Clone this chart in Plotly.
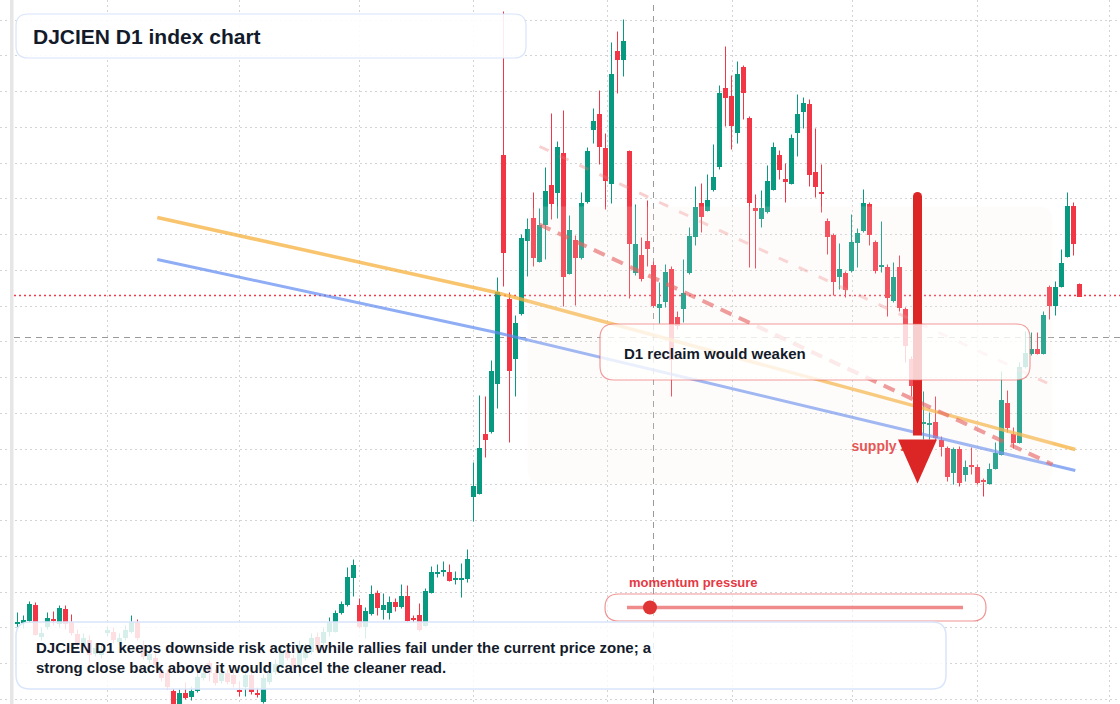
import plotly.graph_objects as go

W, H = 1120, 704

# ---------------- data (index level; 1 unit ~ 1 px vertically) ----------------
bar_index = list(range(178))
open_ = [376,377,379,395,363,373,380,376,391,378,366,355,360,346,345,367,368,358,362,368,
         378,355,340,342,330,327,309,294,307,303,309,322,337,327,319,327,325,310,313,325,
         307,298,318,328,333,348,342,335,342,348,363,357,368,368,387,395,422,395,373,386,
         407,390,387,398,393,404,381,385,374,407,426,428,428,420,420,421,503,506,566,568,
         616,845,701,641,686,759,782,738,775,815,807,847,726,760,742,798,870,886,852,816,
         949,940,849,727,745,759,735,692,698,731,683,691,727,763,797,789,810,833,912,904,
         867,933,882,792,781,788,810,845,821,816,867,888,896,828,808,779,765,723,727,729,
         757,769,796,758,733,733,699,733,691,641,614,576,575,578,560,552,527,551,525,534,
         533,520,516,531,545,597,566,557,633,646,651,646,713,694,713,743,794,716]
high_ = [387,384,398,397,372,387,388,394,394,385,370,366,364,356,354,373,372,366,374,384,
         380,359,350,346,334,330,311,310,317,313,328,331,339,330,331,330,328,318,330,328,
         312,325,331,340,352,352,345,359,356,366,367,372,382,389,398,432,440,401,392,414,
         409,406,403,401,415,414,384,396,411,433,435,438,435,428,436,450,537,604,603,639,
         722,988,707,684,765,781,807,791,832,886,858,889,784,764,807,852,891,909,866,957,
         968,980,849,795,762,799,738,717,735,733,688,740,772,813,816,825,855,914,953,924,
         938,934,883,805,809,834,857,849,836,865,905,902,900,871,835,781,766,756,728,785,
         771,810,797,759,778,735,737,744,692,643,620,608,587,603,563,553,552,553,539,552,
         535,521,536,557,628,609,572,637,668,667,667,688,714,718,750,807,797,716]
low_ = [372,371,377,364,359,370,374,372,370,364,352,352,337,343,341,363,356,354,359,366,
        359,340,336,332,318,310,290,292,300,299,307,319,318,314,316,315,312,303,303,305,
        302,296,315,325,331,339,329,323,339,345,347,354,363,367,385,393,403,371,361,384,
        384,380,380,388,391,378,377,368,373,406,422,423,418,415,402,417,478,505,542,566,
        591,713,557,603,684,723,733,737,740,780,781,693,725,694,740,796,856,835,790,796,
        906,923,701,724,718,733,692,676,692,603,670,677,725,754,767,788,808,830,873,850,
        856,880,732,731,772,786,809,820,797,815,843,871,813,802,787,745,704,710,702,727,
        732,767,754,726,727,683,697,688,637,603,575,560,560,559,543,518,515,513,518,525,
        515,503,515,530,544,567,551,556,631,644,645,645,680,684,712,742,744,703]
close_ = [377,380,396,365,367,382,379,392,376,367,355,362,345,352,350,370,360,362,370,378,
          362,343,346,335,322,313,294,307,302,309,323,327,327,317,327,318,316,308,325,308,
          305,322,327,336,348,342,333,355,352,362,350,368,378,387,396,423,435,373,389,406,
          392,395,398,393,404,379,380,370,409,428,427,429,419,421,422,441,514,552,560,629,
          708,747,629,677,762,771,742,775,809,796,853,723,770,742,797,849,879,853,819,926,
          940,959,756,756,721,751,694,696,728,640,674,707,764,793,783,800,823,907,902,874,
          926,907,797,789,792,819,853,830,818,862,886,897,825,813,806,763,718,731,710,758,
          767,797,765,729,734,702,723,692,654,614,580,578,577,562,553,523,551,517,533,533,
          517,518,531,547,600,572,557,633,647,651,646,685,694,713,737,794,756,703]

# reference levels and drawn studies (index units / price units)
reclaim_level = 704
pivot_level = 662
focus_bar = 106
trend_orange_x = [23.3, 79.8, 176.3]
trend_orange_y = [782, 707, 550]
trend_blue_x = [23.3, 79.8, 176.3]
trend_blue_y = [740, 667, 529]
channel_low_x = [87, 172.5]
channel_low_y = [775, 535]
channel_high_x = [87, 172.5]
channel_high_y = [853, 614]
zone_x = [85, 172.5]
zone_y = [516, 793]
arrow_bar = 150
arrow_from = 803
arrow_to = 516
grid_x = [15, 37, 57, 76, 98.3, 119.1, 139.1, 160, 182]

GREEN = "#089981"
RED = "#f23645"
FONT = "Liberation Sans, Arial, sans-serif"
DARK = "#131b2b"

X0 = -17.5 / 6          # axis start so that bar i sits at pixel 17.5 + 6 i
Y0 = 295.5              # axis bottom (price)

fig = go.Figure()

# wicks
for up, col in ((True, GREEN), (False, RED)):
    wx, wy = [], []
    for i, o, h, l, c in zip(bar_index, open_, high_, low_, close_):
        if (c >= o) == up:
            wx += [i, i, None]
            wy += [l, h, None]
    fig.add_trace(go.Scatter(x=wx, y=wy, mode="lines", line=dict(color=col, width=1),
                             showlegend=False, hoverinfo="skip"))

# bodies
body_base = [min(o, c) for o, c in zip(open_, close_)]
body_len = [max(abs(c - o), 1.5) for o, c in zip(open_, close_)]
body_col = [GREEN if c >= o else RED for o, c in zip(open_, close_)]
fig.add_trace(go.Bar(x=bar_index, y=body_len, base=body_base, width=0.8,
                     marker=dict(color=body_col, line=dict(width=0)),
                     showlegend=False, hoverinfo="skip"))

fig.add_trace(go.Scatter(x=trend_orange_x, y=trend_orange_y, mode="lines",
                         line=dict(color="rgba(246,176,60,0.75)", width=3.5),
                         showlegend=False, hoverinfo="skip"))
fig.add_trace(go.Scatter(x=trend_blue_x, y=trend_blue_y, mode="lines",
                         line=dict(color="rgba(96,138,240,0.7)", width=3),
                         showlegend=False, hoverinfo="skip"))
fig.add_trace(go.Scatter(x=channel_low_x, y=channel_low_y, mode="lines",
                         line=dict(color="rgba(226,72,72,0.62)", width=4, dash="12px,8px"),
                         showlegend=False, hoverinfo="skip"))
fig.add_trace(go.Scatter(x=channel_high_x, y=channel_high_y, mode="lines",
                         line=dict(color="rgba(236,120,120,0.35)", width=3, dash="10px,12px"),
                         showlegend=False, hoverinfo="skip"))
fig.add_trace(go.Scatter(x=[139], y=[552], mode="text", text=["<b>supply zone</b>"],
                         textposition="middle right",
                         textfont=dict(family=FONT, size=14, color="#e23a3a"),
                         showlegend=False, hoverinfo="skip"))


def rr_path(x0, y0, x1, y1, rx, ry):
    return (f"M {x0+rx},{y0} L {x1-rx},{y0} Q {x1},{y0} {x1},{y0+ry} "
            f"L {x1},{y1-ry} Q {x1},{y1} {x1-rx},{y1} L {x0+rx},{y1} "
            f"Q {x0},{y1} {x0},{y1-ry} L {x0},{y0+ry} Q {x0},{y0} {x0+rx},{y0} Z")


def px_rr(x0, y0, x1, y1, r):
    X = lambda v: v / W
    Y = lambda v: 1 - v / H
    return rr_path(X(x0), Y(y0), X(x1), Y(y1), r / W, -r / H)


shapes = []
# reference lines (under candles)
shapes.append(dict(type="line", xref="paper", yref="y", x0=14 / W, x1=1, y0=reclaim_level, y1=reclaim_level,
                   line=dict(color="#ef3a4c", width=1.3, dash="2px,3px"), layer="below"))
shapes.append(dict(type="line", xref="paper", yref="y", x0=14 / W, x1=1, y0=pivot_level, y1=pivot_level,
                   line=dict(color="rgba(120,120,120,0.75)", width=1, dash="6px,5px"), layer="below"))
shapes.append(dict(type="line", xref="x", yref="paper", x0=focus_bar, x1=focus_bar, y0=0, y1=1,
                   line=dict(color="rgba(120,120,120,0.75)", width=1, dash="6px,5px"), layer="below"))
# left strip
shapes.append(dict(type="rect", xref="paper", yref="paper", x0=10 / W, x1=13.5 / W, y0=0, y1=1,
                   fillcolor="#e6e6e6", line=dict(width=0), layer="above"))
# supply zone
shapes.append(dict(type="path", xref="x", yref="y",
                   path=rr_path(zone_x[0], zone_y[1], zone_x[1], zone_y[0], 2.5, -15),
                   fillcolor="rgba(250,238,230,0.16)", line=dict(width=0), layer="above"))
# arrow
shapes.append(dict(type="line", xref="x", yref="y", x0=arrow_bar, x1=arrow_bar, y0=arrow_from, y1=arrow_to + 48,
                   line=dict(color="#dc2626", width=9), layer="above"))
shapes.append(dict(type="circle", xref="x", yref="y", x0=arrow_bar - 0.75, x1=arrow_bar + 0.75,
                   y0=arrow_from - 4.5, y1=arrow_from + 4.5, fillcolor="#dc2626", line=dict(width=0), layer="above"))
shapes.append(dict(type="path", xref="x", yref="y",
                   path=f"M {arrow_bar-3.25},{arrow_to+44} L {arrow_bar+3.25},{arrow_to+44} L {arrow_bar},{arrow_to} Z",
                   fillcolor="#dc2626", line=dict(width=0), layer="above"))
# callout box
shapes.append(dict(type="path", xref="paper", yref="paper", path=px_rr(600, 324, 1030, 380, 14),
                   fillcolor="rgba(255,255,255,0.78)", line=dict(color="rgba(232,90,90,0.6)", width=1.2), layer="above"))
# title box
shapes.append(dict(type="path", xref="paper", yref="paper", path=px_rr(16, 14, 526, 58, 12),
                   fillcolor="rgba(255,255,255,0.9)", line=dict(color="#d8e5fb", width=1.2), layer="above"))
# slider pill
shapes.append(dict(type="path", xref="paper", yref="paper", path=px_rr(605, 594, 986, 621, 13.5),
                   fillcolor="rgba(255,255,255,0.6)", line=dict(color="rgba(232,90,90,0.65)", width=1.2), layer="above"))
shapes.append(dict(type="line", xref="paper", yref="paper", x0=627 / W, x1=963 / W, y0=1 - 607.5 / H, y1=1 - 607.5 / H,
                   line=dict(color="rgba(236,110,110,0.8)", width=3.5), layer="above"))
shapes.append(dict(type="circle", xref="paper", yref="paper", x0=643 / W, x1=657 / W, y0=1 - 614.5 / H, y1=1 - 600.5 / H,
                   fillcolor="#e03535", line=dict(width=0), layer="above"))
# bottom text box
shapes.append(dict(type="path", xref="paper", yref="paper", path=px_rr(16, 622, 946, 689, 14),
                   fillcolor="rgba(255,255,255,0.84)", line=dict(color="#d8e5fb", width=1.5), layer="above"))

annotations = [
    dict(xref="paper", yref="paper", x=31 / W, y=1 - 36 / H, xanchor="left", yanchor="middle",
         text="<b>DJCIEN D1 index chart</b>", showarrow=False,
         font=dict(family=FONT, size=21, color=DARK)),
    dict(xref="paper", yref="paper", x=622 / W, y=1 - 353 / H, xanchor="left", yanchor="middle",
         text="<b>D1 reclaim would weaken</b>", showarrow=False,
         font=dict(family=FONT, size=15, color=DARK)),
    dict(xref="paper", yref="paper", x=627 / W, y=1 - 582 / H, xanchor="left", yanchor="middle",
         text="<b>momentum pressure</b>", showarrow=False,
         font=dict(family=FONT, size=13, color="#e53945")),
    dict(xref="paper", yref="paper", x=34 / W, y=1 - 657 / H, xanchor="left", yanchor="middle", align="left",
         text="<b>DJCIEN D1 keeps downside risk active while rallies fail under the current price zone; a<br>"
              "strong close back above it would cancel the cleaner read.</b>", showarrow=False,
         font=dict(family=FONT, size=15, color=DARK)),
]

grid_y = [979.5 - 35.75 * k for k in range(20)]

fig.update_layout(
    width=W, height=H, margin=dict(l=0, r=0, t=0, b=0),
    paper_bgcolor="white", plot_bgcolor="white",
    shapes=shapes, annotations=annotations, showlegend=False, bargap=0,
    xaxis=dict(range=[X0, X0 + W / 6],
               showticklabels=False, ticks="", tickvals=grid_x, showgrid=True,
               gridcolor="#d4d4d4", griddash="1.5px,3.5px", gridwidth=1, zeroline=False, showline=False),
    yaxis=dict(range=[Y0, Y0 + H], showticklabels=False, ticks="", tickvals=grid_y, showgrid=True,
               gridcolor="#d4d4d4", griddash="1.5px,3.5px", gridwidth=1, zeroline=False, showline=False),
)

fig.write_html("out.html")
